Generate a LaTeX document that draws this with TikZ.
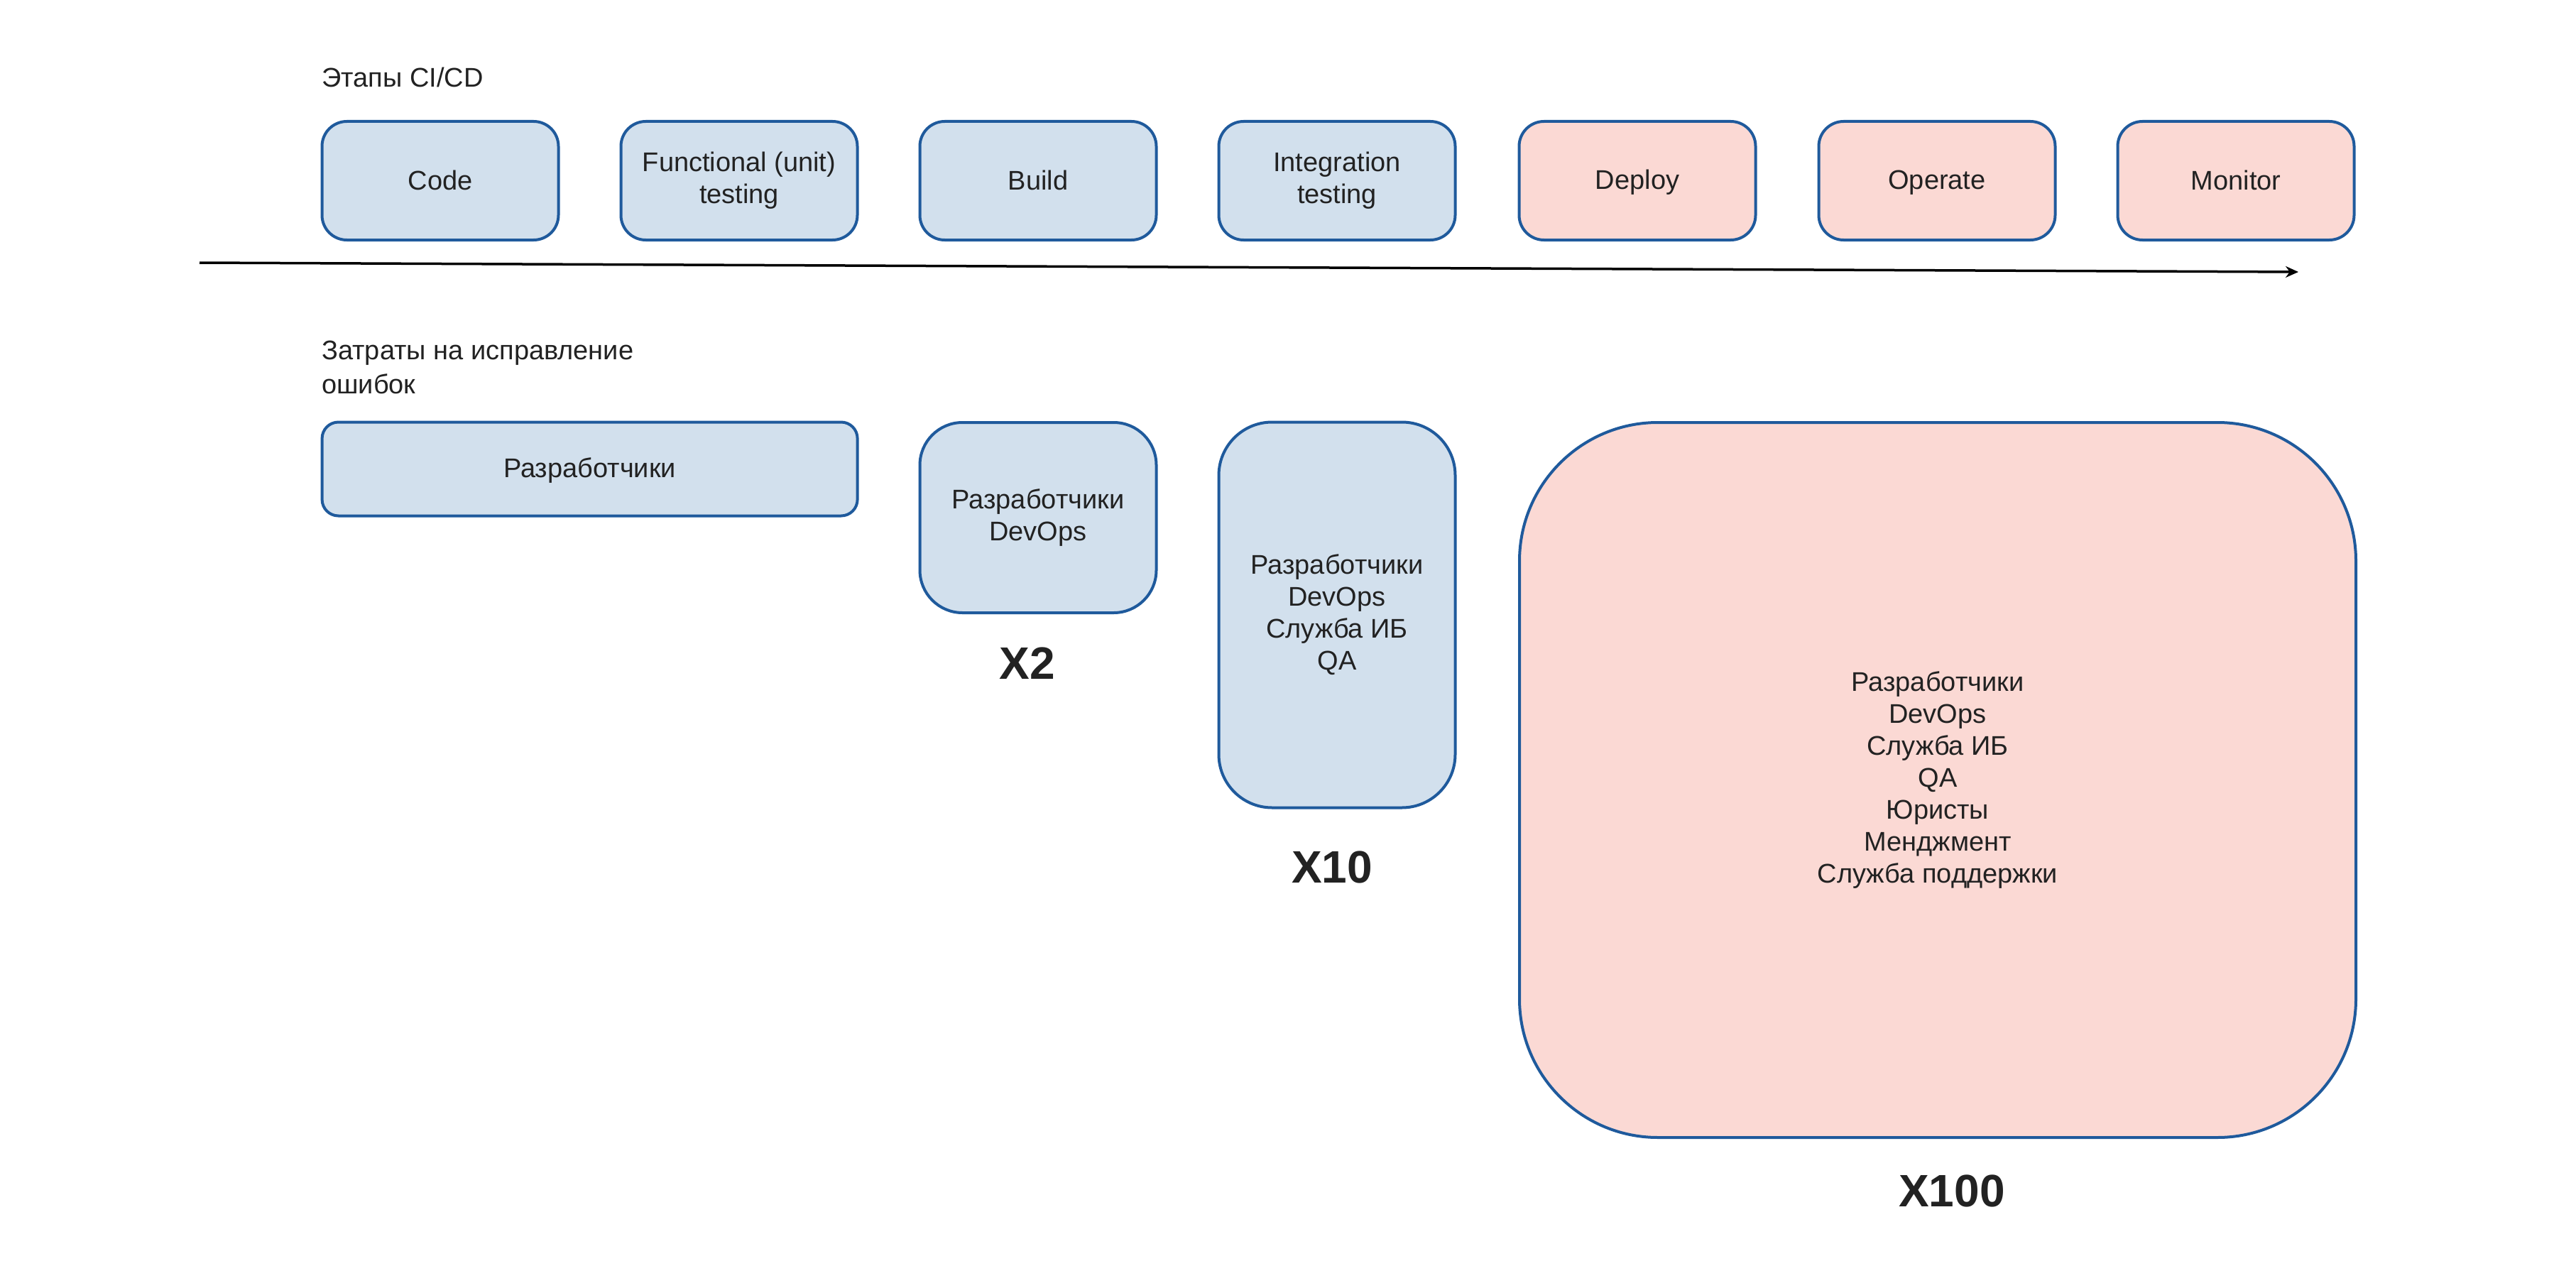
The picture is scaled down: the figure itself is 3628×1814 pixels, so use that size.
\documentclass[tikz,border=0pt]{standalone}
\usepackage{fontspec}
\setmainfont{Liberation Sans}
\usetikzlibrary{arrows.meta}
\definecolor{bluef}{HTML}{D2E0ED}
\definecolor{pinkf}{HTML}{FBD9D4}
\definecolor{bordc}{HTML}{1F5A9C}
\definecolor{txt}{HTML}{222222}
\newcommand\boxstrut{\rule[-4pt]{0pt}{35pt}}
\begin{document}
\begin{tikzpicture}[x=1pt,y=-1pt,
  box/.style={draw=bordc, line width=4pt, align=center, inner sep=0pt, text=txt,
    font=\fontsize{38}{45}\selectfont,
    execute at begin node=\boxstrut, execute at end node=\boxstrut},
  stage/.style={box, rounded corners=35pt, minimum width=333pt, minimum height=167pt},
  bluebox/.style={fill=bluef},
  pinkbox/.style={fill=pinkf},
  lbl/.style={anchor=west, text=txt, inner sep=0pt, align=left,
    font=\fontsize{38}{48}\selectfont},
  mult/.style={text=txt, inner sep=0pt, font=\bfseries\fontsize{64}{64}\selectfont},
  timeline/.style={line width=3.5pt, black, -{Stealth[length=18pt,width=16pt]}}]

\useasboundingbox (0,0) rectangle (3628,1814);
\fill[white] (0,0) rectangle (3628,1814);

\node[lbl] (title) at (453,109) {Этапы CI/CD};

\node[stage, bluebox] (code)  at (620,254.5)  {Code};
\node[stage, bluebox] (unit)  at (1041,254.5) {Functional (unit)\\testing};
\node[stage, bluebox] (build) at (1462,254.5) {Build};
\node[stage, bluebox] (integ) at (1883,254.5) {Integration\\testing};
\node[stage, pinkbox] (deploy) at (2306,254.5) {Deploy};
\node[stage, pinkbox] (operate) at (2728,254.5) {Operate};
\node[stage, pinkbox] (monitor) at (3149,254.5) {Monitor};

\coordinate (a0) at (281,370);
\coordinate (a1) at (3237,383);
\draw[timeline] (a0) -- (a1);

\node[lbl] (cost) at (453,517) {Затраты на исправление\\ошибок};

\node[box, bluebox, rounded corners=23pt, minimum width=754pt, minimum height=132pt]
  (dev) at (830.6,660.5) {Разработчики};
\node[box, bluebox, rounded corners=60pt, minimum width=333pt, minimum height=268pt]
  (b2) at (1462,729) {Разработчики\\DevOps};
\node[box, bluebox, rounded corners=75pt, minimum width=333pt, minimum height=543pt]
  (b10) at (1883,866) {Разработчики\\DevOps\\Служба ИБ\\QA};
\node[box, pinkbox, rounded corners=195pt, minimum width=1178pt, minimum height=1007pt]
  (b100) at (2729,1098.5) {Разработчики\\DevOps\\Служба ИБ\\QA\\Юристы\\Менджмент\\Служба поддержки};

\node[mult] (x2) at (1447,934) {X2};
\node[mult] (x10) at (1876,1221) {X10};
\node[mult] (x100) at (2749,1677) {X100};
\end{tikzpicture}
\end{document}
